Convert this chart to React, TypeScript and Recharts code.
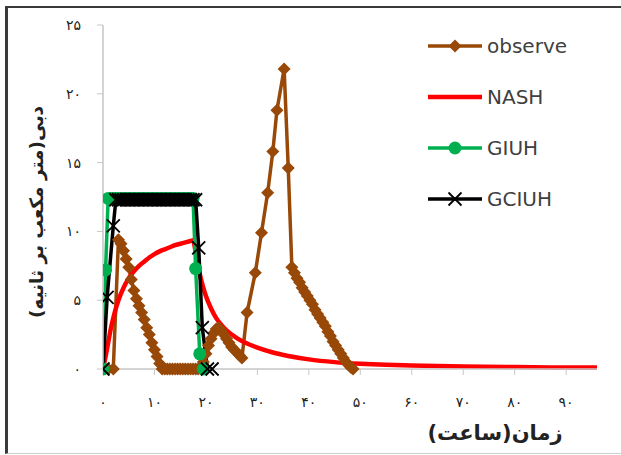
import React from 'react';
import { LineChart, Line, XAxis, YAxis, Legend } from 'recharts';

const xTicks = [0, 10, 20, 30, 40, 50, 60, 70, 80, 90];
const xTickLabels = ['۰', '۱۰', '۲۰', '۳۰', '۴۰', '۵۰', '۶۰', '۷۰', '۸۰', '۹۰'];
const yTicks = [0, 5, 10, 15, 20, 25];
const yTickLabels = ['۰', '۵', '۱۰', '۱۵', '۲۰', '۲۵'];
const seriesNames = ['observe', 'NASH', 'GIUH', 'GCIUH'];
const xAxisTitle = 'زمان(ساعت)';
const yAxisTitle = 'دبی(متر مکعب بر ثانیه)';

const observeTime = [0, 1, 2, 3, 3.5, 4, 4.5, 5, 5.5, 6, 6.5, 7, 7.5, 8, 8.5, 9, 9.5, 10, 10.5, 11, 11.5,
  12, 12.5, 13, 13.5, 14, 14.5, 15, 15.5, 16, 16.5, 17, 17.5, 18, 18.5, 19, 19.5, 20, 20.5, 21, 21.5, 22,
  22.5, 23, 23.5, 24, 24.5, 25, 25.5, 26, 26.5, 27, 28, 29.6, 30.8, 32, 33, 33.8, 35.2, 36, 36.7, 37.2,
  37.7, 38.2, 38.7, 39.2, 39.7, 40.2, 40.7, 41.2, 41.7, 42.2, 42.7, 43.2, 43.7, 44.2, 44.7, 45.2, 45.7,
  46.2, 46.7, 47.2, 47.7, 48.2, 48.6];
const observeFlow = [0, 0, 0, 9.4, 9.1, 8.6, 8.0, 7.4, 6.5, 5.7, 5.1, 4.6, 4.1, 3.6, 3.0, 2.5, 1.9, 1.4, 0.9, 0.4, 0,
  0, 0, 0, 0, 0, 0, 0, 0, 0, 0, 0, 0, 0, 0, 0.1, 0.5, 1.1, 1.7, 2.2, 2.6, 2.9,
  3.0, 2.8, 2.5, 2.2, 1.9, 1.6, 1.4, 1.2, 1.0, 0.8, 4.1, 7.0, 9.9, 12.8, 15.8, 18.8, 21.8, 14.6, 7.4, 7.0,
  6.6, 6.3, 5.9, 5.6, 5.3, 5.0, 4.7, 4.3, 4.0, 3.7, 3.4, 3.1, 2.7, 2.4, 2.0, 1.7, 1.4,
  1.1, 0.8, 0.5, 0.3, 0.1, 0];

const nashTime = [0, 0.5, 1, 1.5, 2, 2.5, 3, 4, 5, 6, 7, 8, 9, 10, 11, 12, 13, 14, 15, 16, 17, 17.5, 18, 18.5,
  19, 19.5, 20, 21, 22, 23, 24, 26, 28, 30, 33, 36, 40, 45, 50, 55, 60, 70, 80, 90, 96];
const nashFlow = [0, 0.9, 1.9, 2.9, 3.7, 4.4, 5.0, 5.9, 6.6, 7.1, 7.5, 7.8, 8.1, 8.35, 8.55, 8.7, 8.85, 9.0, 9.1,
  9.2, 9.3, 9.35, 8.5, 7.5, 6.6, 5.9, 5.3, 4.4, 3.7, 3.2, 2.8, 2.25, 1.85, 1.55, 1.2, 0.95, 0.7, 0.5, 0.38,
  0.3, 0.25, 0.18, 0.14, 0.11, 0.1];

const giuhTime = [0, 0.5, 1, 1.5, 2, 2.5, 3, 3.5, 4, 4.5, 5, 5.5, 6, 6.5, 7, 7.5, 8, 8.5, 9, 9.5, 10, 10.5, 11,
  11.5, 12, 12.5, 13, 13.5, 14, 14.5, 15, 15.5, 16, 16.5, 17, 17.5, 18, 18.8, 19.5];
const giuhFlow = [0, 7.2, 12.4, 12.4, 12.4, 12.4, 12.4, 12.4, 12.4, 12.4, 12.4, 12.4, 12.4, 12.4, 12.4, 12.4,
  12.4, 12.4, 12.4, 12.4, 12.4, 12.4, 12.4, 12.4, 12.4, 12.4, 12.4, 12.4, 12.4, 12.4, 12.4, 12.4, 12.4,
  12.4, 12.4, 12.4, 7.3, 1.1, 0];

const gciuhTime = [0, 0.8, 2, 2.5, 3, 3.5, 4, 4.5, 5, 5.5, 6, 6.5, 7, 7.5, 8, 8.5, 9, 9.5, 10, 10.5, 11, 11.5,
  12, 12.5, 13, 13.5, 14, 14.5, 15, 15.5, 16, 16.5, 17, 17.5, 18, 18.6, 19.3, 20.3, 21.2];
const gciuhFlow = [0, 5.2, 10.4, 12.3, 12.3, 12.3, 12.3, 12.3, 12.3, 12.3, 12.3, 12.3, 12.3, 12.3, 12.3, 12.3,
  12.3, 12.3, 12.3, 12.3, 12.3, 12.3, 12.3, 12.3, 12.3, 12.3, 12.3, 12.3, 12.3, 12.3, 12.3, 12.3, 12.3,
  12.3, 12.3, 8.8, 3.0, 0, 0];

const toData = (ts: number[], vs: number[]) => ts.map((t, i) => ({ t, v: vs[i] }));
const observeData = toData(observeTime, observeFlow);
const nashData = toData(nashTime, nashFlow);
const giuhData = toData(giuhTime, giuhFlow);
const gciuhData = toData(gciuhTime, gciuhFlow);

const BROWN = '#984807';
const RED = '#FF0000';
const GREEN = '#00B050';
const BLACK = '#000000';
const AXIS = '#c6c6c6';

const diamondPath = (cx: number, cy: number) =>
  `M${cx},${cy - 6.5}L${cx + 6.5},${cy}L${cx},${cy + 6.5}L${cx - 6.5},${cy}Z`;
const crossPath = (cx: number, cy: number) =>
  `M${cx - 6.5},${cy - 6.5}L${cx + 6.5},${cy + 6.5}M${cx - 6.5},${cy + 6.5}L${cx + 6.5},${cy - 6.5}`;

const DiamondDot = (p: any) => {
  if (p.cx == null || p.cy == null) return <g key={`d${p.index}`} />;
  return <path key={`d${p.index}`} d={diamondPath(p.cx, p.cy)} fill={BROWN} />;
};
const CircleDot = (p: any) => {
  if (p.cx == null || p.cy == null) return <g key={`c${p.index}`} />;
  return <circle key={`c${p.index}`} cx={p.cx} cy={p.cy} r={6.5} fill={GREEN} />;
};
const CrossDot = (p: any) => {
  if (p.cx == null || p.cy == null) return <g key={`x${p.index}`} />;
  return <path key={`x${p.index}`} d={crossPath(p.cx, p.cy)} stroke={BLACK} strokeWidth={1.8} fill="none" />;
};

const legendStyles = [
  { color: BROWN, width: 3.5, marker: 'diamond' },
  { color: RED, width: 4.5, marker: 'none' },
  { color: GREEN, width: 3.5, marker: 'circle' },
  { color: BLACK, width: 3.5, marker: 'cross' },
];

const renderLegend = () => (
  <div style={{ fontFamily: 'DejaVu Sans', fontSize: 20, color: '#404040' }}>
    {seriesNames.map((name, i) => {
      const s = legendStyles[i];
      return (
        <div key={name} style={{ height: 51, display: 'flex', alignItems: 'center' }}>
          <svg width={54} height={20} style={{ marginRight: 5 }}>
            <line x1={0} y1={10} x2={54} y2={10} stroke={s.color} strokeWidth={s.width} />
            {s.marker === 'diamond' && <path d={diamondPath(27, 10)} fill={s.color} />}
            {s.marker === 'circle' && <circle cx={27} cy={10} r={6.5} fill={s.color} />}
            {s.marker === 'cross' && <path d={crossPath(27, 10)} stroke={s.color} strokeWidth={1.8} fill="none" />}
          </svg>
          <span>{name}</span>
        </div>
      );
    })}
  </div>
);

const XTitle = (props: any) => {
  const vb = props.viewBox || {};
  return (
    <text x={vb.x + vb.width - 102} y={vb.y + 64} textAnchor="middle" dominantBaseline="central"
      direction="rtl" fontFamily="DejaVu Sans" fontWeight="bold" fontSize={21} fill="#222">
      {xAxisTitle}
    </text>
  );
};

const YTitle = () => {
  const x = 36;
  const y = 212;
  return (
    <text x={x} y={y} textAnchor="middle" dominantBaseline="central" direction="rtl"
      transform={`rotate(-90, ${x}, ${y})`} fontFamily="DejaVu Sans" fontWeight="bold" fontSize={18.5} fill="#222">
      {yAxisTitle}
    </text>
  );
};

const tickStyle = { fontSize: 14, fill: '#222', fontFamily: 'DejaVu Sans', letterSpacing: 2 };

export default function App() {
  return (
    <div style={{ position: 'absolute', left: 0, top: 0, width: 621, height: 455, background: '#fff', overflow: 'hidden' }}>
      <div style={{ position: 'absolute', left: 5, top: 6, width: 640, height: 445, borderTop: '2px solid #3a3a3a', borderLeft: '3px solid #3a3a3a', borderBottom: '1px solid #cfcfcf' }} />
      <div style={{ position: 'absolute', left: 0, top: 0 }}>
        <LineChart width={621} height={455} margin={{ top: 25, right: 24, bottom: 26, left: 23 }}>
          <XAxis type="number" dataKey="t" domain={[0, 96]} ticks={xTicks} height={60}
            tickFormatter={(v: number) => xTickLabels[xTicks.indexOf(v)]}
            axisLine={{ stroke: AXIS, strokeWidth: 1.5 }} tickLine={{ stroke: AXIS }} tickSize={6} tickMargin={22}
            tick={tickStyle} allowDataOverflow
            label={<XTitle />} />
          <YAxis type="number" domain={[0, 25]} ticks={yTicks} width={80}
            tickFormatter={(v: number) => yTickLabels[yTicks.indexOf(v)]}
            axisLine={{ stroke: AXIS, strokeWidth: 1.5 }} tickLine={{ stroke: AXIS }} tickSize={6} tickMargin={16}
            tick={tickStyle}
            label={<YTitle />} />
          <Legend layout="vertical" align="center" verticalAlign="middle" content={renderLegend}
            wrapperStyle={{ position: 'absolute', left: 428, top: 20, width: 190, height: 204 }} />
          <Line data={observeData} dataKey="v" name={seriesNames[0]} type="linear" stroke={BROWN} strokeWidth={3.5}
            dot={DiamondDot} isAnimationActive={false} />
          <Line data={nashData} dataKey="v" name={seriesNames[1]} type="monotone" stroke={RED} strokeWidth={4.5}
            dot={false} isAnimationActive={false} />
          <Line data={giuhData} dataKey="v" name={seriesNames[2]} type="linear" stroke={GREEN} strokeWidth={3.5}
            dot={CircleDot} isAnimationActive={false} />
          <Line data={gciuhData} dataKey="v" name={seriesNames[3]} type="linear" stroke={BLACK} strokeWidth={3.5}
            dot={CrossDot} isAnimationActive={false} />
        </LineChart>
      </div>
    </div>
  );
}
